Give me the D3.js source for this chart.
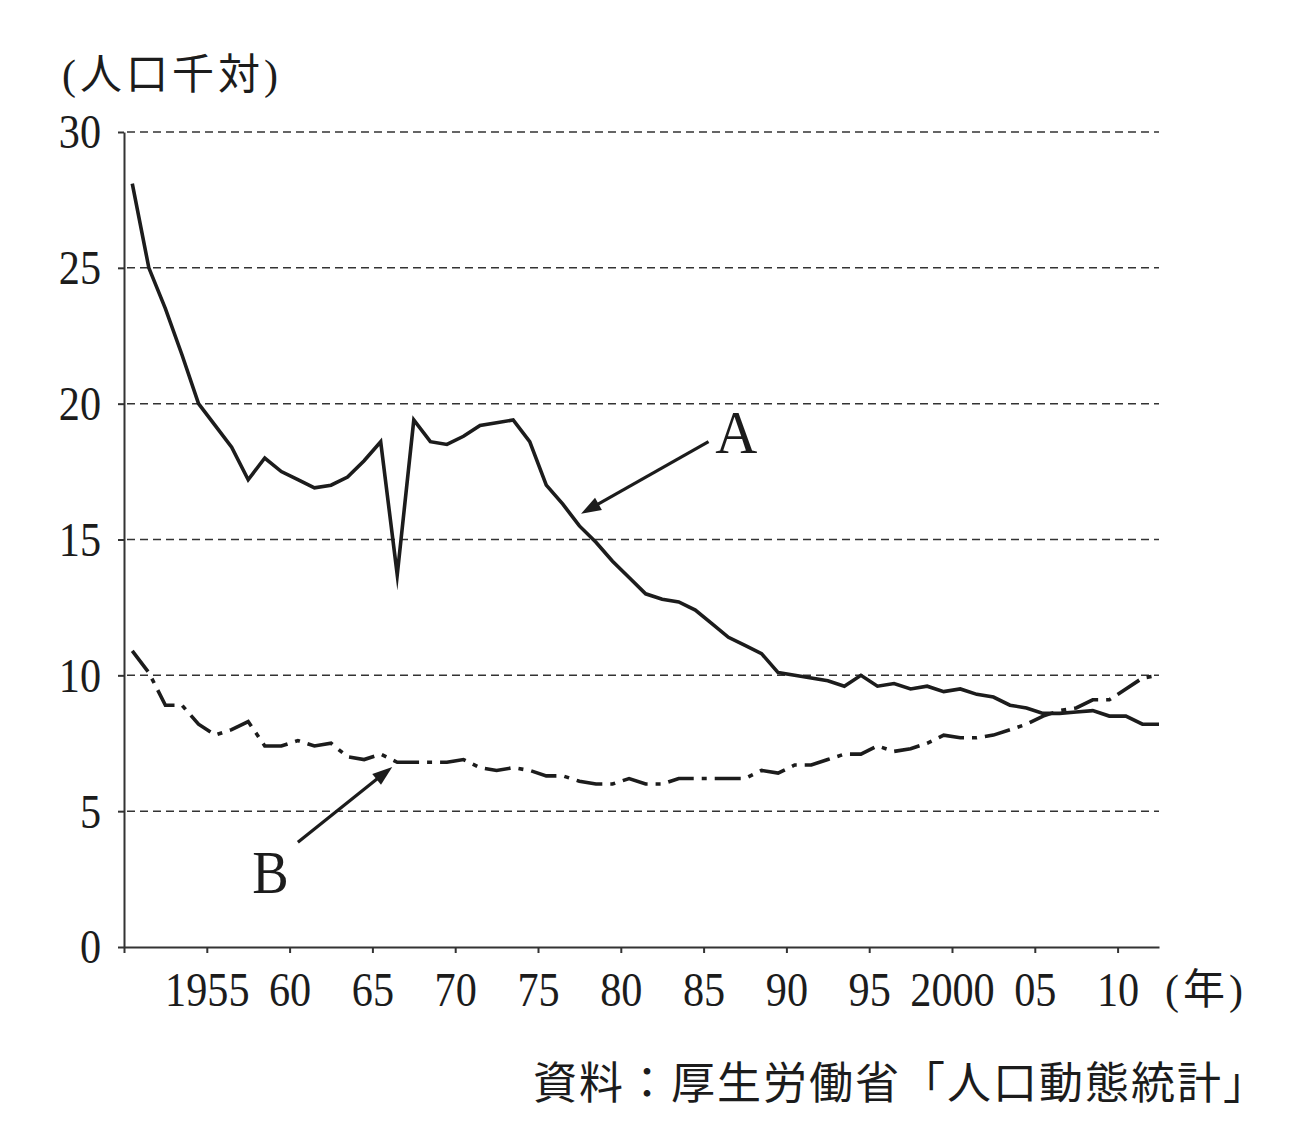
<!DOCTYPE html>
<html>
<head>
<meta charset="utf-8">
<script src="https://cdn.jsdelivr.net/npm/d3@7"></script>
<style>
  html, body { margin: 0; padding: 0; background: #fff; }
  svg { display: block; }
</style>
</head>
<body>
<svg id="chart" width="1296" height="1136"></svg>
<script>
// ---- data ----
const years = d3.range(1950, 2013);
const seriesA = [28.1,25.0,23.5,21.8,20.0,19.2,18.4,17.2,18.0,17.5,17.2,16.9,17.0,17.3,17.9,18.6,13.7,19.4,18.6,18.5,18.8,19.2,19.3,19.4,18.6,17.0,16.3,15.5,14.9,14.2,13.6,13.0,12.8,12.7,12.4,11.9,11.4,11.1,10.8,10.1,10.0,9.9,9.8,9.6,10.0,9.6,9.7,9.5,9.6,9.4,9.5,9.3,9.2,8.9,8.8,8.6,8.6,8.65,8.7,8.5,8.5,8.2,8.2];
const seriesB = [10.9,10.1,8.9,8.9,8.2,7.8,8.0,8.3,7.4,7.4,7.6,7.4,7.5,7.0,6.9,7.1,6.8,6.8,6.8,6.8,6.9,6.6,6.5,6.6,6.5,6.3,6.3,6.1,6.0,6.0,6.2,6.0,6.0,6.2,6.2,6.2,6.2,6.2,6.5,6.4,6.7,6.7,6.9,7.1,7.1,7.4,7.2,7.3,7.5,7.8,7.7,7.7,7.8,8.0,8.2,8.5,8.7,8.8,9.1,9.1,9.5,9.9,10.0];
const xTickYears = [1950,1955,1960,1965,1970,1975,1980,1985,1990,1995,2000,2005,2010];
const xTickLabels = ["","1955","60","65","70","75","80","85","90","95","2000","05","10"];
const yTicks = [0,5,10,15,20,25,30];
const yUnit = "(人口千対)";
const xUnit = "(年)";
const source = "資料：厚生労働省「人口動態統計」";
const labelA = "A", labelB = "B";

// ---- layout ----
const svg = d3.select("#chart");
const pLeft = 124, pRight = 1159, pTop = 132, pBottom = 947;
const x = d3.scaleLinear().domain([1950, 2012.5]).range([pLeft, pRight]);
const y = d3.scaleLinear().domain([0, 30]).range([pBottom, pTop]);
const ink = "#1c1c1c";
const serif = "'Liberation Serif', 'Noto Sans CJK JP', serif";

// gridlines
svg.append("g").selectAll("line").data(yTicks.filter(d => d > 0)).join("line")
  .attr("x1", pLeft + 3).attr("x2", pRight)
  .attr("y1", d => y(d)).attr("y2", d => y(d))
  .attr("stroke", "#333").attr("stroke-width", 1.5)
  .attr("stroke-dasharray", "8,5");

// y axis
const yAxis = svg.append("g").attr("transform", `translate(${pLeft},0)`)
  .call(d3.axisLeft(y).tickValues(yTicks).tickSize(6).tickSizeOuter(0).tickPadding(0));
yAxis.select(".domain").attr("stroke", "#333").attr("stroke-width", 2);
yAxis.selectAll(".tick line").attr("stroke", "#333").attr("stroke-width", 2);
yAxis.selectAll(".tick text")
  .attr("x", -23 / 0.88).attr("dy", "0.33em")
  .attr("transform", "scale(0.88,1)")
  .attr("font-family", serif).attr("font-size", 48).attr("fill", ink)
  .attr("text-anchor", "end");

// x axis
const xAxis = svg.append("g").attr("transform", `translate(0,${pBottom})`)
  .call(d3.axisBottom(x).tickValues(xTickYears)
    .tickFormat((d, i) => xTickLabels[i]).tickSize(6).tickSizeOuter(0).tickPadding(0));
xAxis.select(".domain").attr("stroke", "#333").attr("stroke-width", 2);
xAxis.selectAll(".tick line").attr("stroke", "#333").attr("stroke-width", 2);
xAxis.selectAll(".tick text")
  .attr("y", 59).attr("dy", 0)
  .attr("transform", "scale(0.88,1)")
  .attr("font-family", serif).attr("font-size", 48).attr("fill", ink);

// lines
const line = d3.line().x((d, i) => x(years[i] + 0.5)).y(d => y(d));
svg.append("path").datum(seriesA).attr("d", line)
  .attr("fill", "none").attr("stroke", ink).attr("stroke-width", 3.6)
  .attr("stroke-linejoin", "miter").attr("stroke-miterlimit", 10);
svg.append("path").datum(seriesB).attr("d", line)
  .attr("fill", "none").attr("stroke", ink).attr("stroke-width", 3.6)
  .attr("stroke-dasharray", "26,8,5,8").attr("stroke-linejoin", "miter");

// arrows (annotation positions in data coordinates)
const arrowA = { from: [1985.3, 18.6], to: [1977.6, 15.95] };
const arrowB = { from: [1960.5, 3.86], to: [1966.2, 6.63] };
function drawArrow(a) {
  const x1 = x(a.from[0]), y1 = y(a.from[1]), x2 = x(a.to[0]), y2 = y(a.to[1]);
  const ang = Math.atan2(y2 - y1, x2 - x1);
  const len = 20, hw = 7;
  const bx = x2 - len * Math.cos(ang), by = y2 - len * Math.sin(ang);
  svg.append("line").attr("x1", x1).attr("y1", y1).attr("x2", bx + 2 * Math.cos(ang)).attr("y2", by + 2 * Math.sin(ang))
    .attr("stroke", ink).attr("stroke-width", 3.2);
  const p = [[x2, y2],
    [bx + hw * Math.sin(ang), by - hw * Math.cos(ang)],
    [bx - hw * Math.sin(ang), by + hw * Math.cos(ang)]];
  svg.append("path").attr("d", "M" + p.map(q => q.join(",")).join("L") + "Z").attr("fill", ink);
}
drawArrow(arrowA);
drawArrow(arrowB);

// series labels
svg.append("text").attr("transform", `translate(${x(1986.98)},${y(18.2)}) scale(0.94,1)`)
  .attr("text-anchor", "middle").attr("font-family", serif).attr("font-size", 62).attr("fill", ink).text(labelA);
svg.append("text").attr("transform", `translate(${x(1958.85)},${y(2.0)}) scale(0.88,1)`)
  .attr("text-anchor", "middle").attr("font-family", serif).attr("font-size", 62).attr("fill", ink).text(labelB);

// units and source
svg.append("text").attr("x", 62).attr("y", 89).attr("font-family", serif).attr("font-size", 42)
  .attr("letter-spacing", 4).attr("fill", ink).text(yUnit);
svg.append("text").attr("x", 1165).attr("y", 1004).attr("font-family", serif).attr("font-size", 42)
  .attr("letter-spacing", 4).attr("fill", ink).text(xUnit);
svg.append("text").attr("x", 533).attr("y", 1099).attr("font-family", "'Noto Sans CJK JP', sans-serif")
  .attr("font-size", 44).attr("letter-spacing", 2).attr("fill", ink).text(source);
</script>
</body>
</html>
